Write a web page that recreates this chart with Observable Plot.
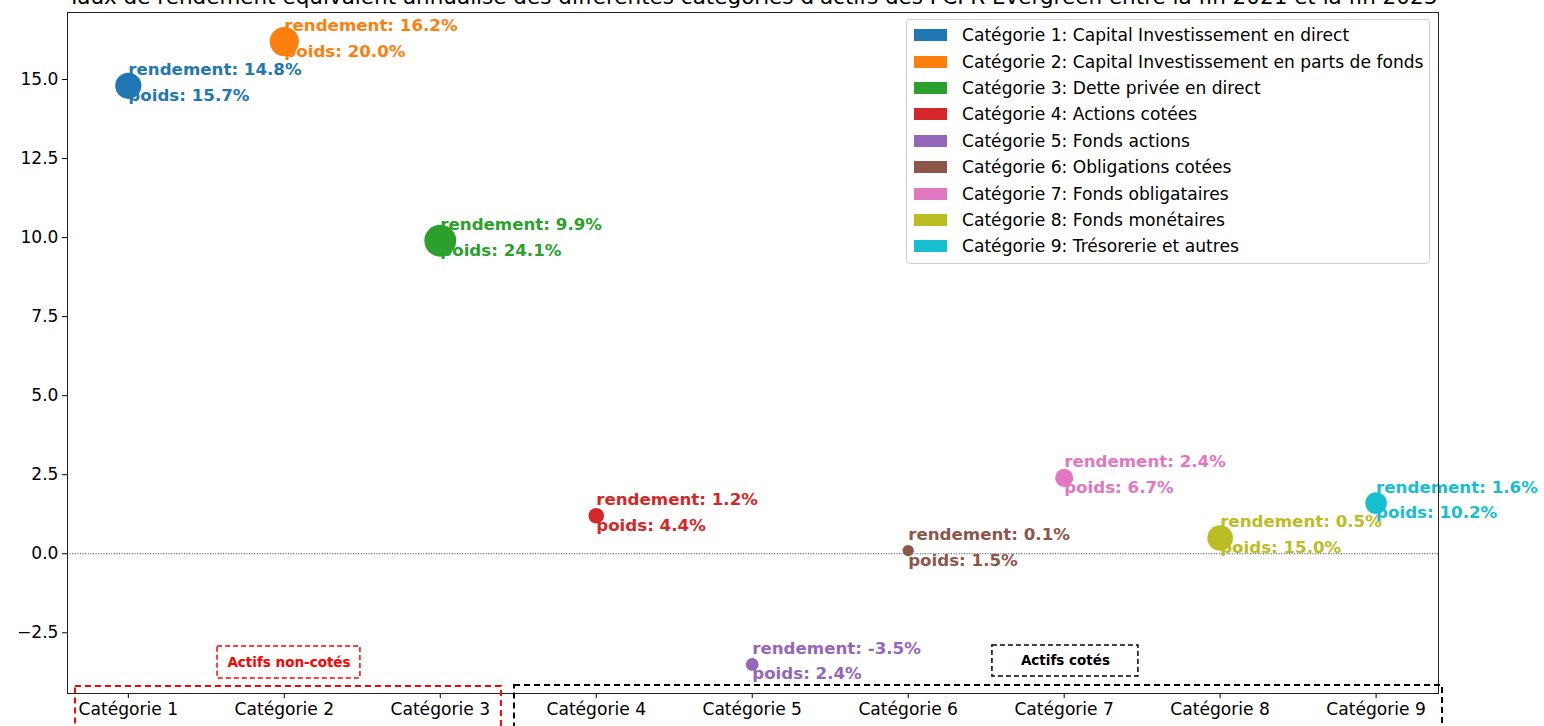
<!DOCTYPE html>
<html>
<head>
<meta charset="utf-8">
<script src="https://cdn.jsdelivr.net/npm/d3@7"></script>
<script src="https://cdn.jsdelivr.net/npm/@observablehq/plot@0.6"></script>
<style>
  html, body { margin: 0; padding: 0; background: #fff; overflow: hidden; }
  #wrap { position: relative; width: 1544px; height: 726px; font-family: "DejaVu Sans", sans-serif; }
  #title { position: absolute; left: 67px; width: 1371px; top: -14px; text-align: center; font-size: 21.5px; line-height: 21.5px; color: #000; white-space: nowrap; }
  #legend { position: absolute; left: 906px; top: 19px; width: 522px; padding: 2px 0 3px 0; border: 1px solid #d0d0d0; border-radius: 4px; background: rgba(255,255,255,0.8); font-size: 17.1px; color: #000; }
  .row { height: 26.4px; display: flex; align-items: center; }
  .sw { width: 33px; height: 12px; margin-left: 7px; margin-right: 15px; flex: none; }
</style>
</head>
<body>
<div id="wrap">
  <div id="chart"></div>
  <div id="title"></div>
  <div id="legend"></div>
</div>
<script>
const titleText = "Taux de rendement équivalent annualisé des différentes catégories d'actifs des FCPR Evergreen entre la fin 2021 et la fin 2023";
const categories = [1, 2, 3, 4, 5, 6, 7, 8, 9];
const rendement = [14.8, 16.2, 9.9, 1.2, -3.5, 0.1, 2.4, 0.5, 1.6];
const poids = [15.7, 20.0, 24.1, 4.4, 2.4, 1.5, 6.7, 15.0, 10.2];
const legendLabels = [
  "Catégorie 1: Capital Investissement en direct",
  "Catégorie 2: Capital Investissement en parts de fonds",
  "Catégorie 3: Dette privée en direct",
  "Catégorie 4: Actions cotées",
  "Catégorie 5: Fonds actions",
  "Catégorie 6: Obligations cotées",
  "Catégorie 7: Fonds obligataires",
  "Catégorie 8: Fonds monétaires",
  "Catégorie 9: Trésorerie et autres"
];
const colors = ["#1f77b4", "#ff7f0e", "#2ca02c", "#d62728", "#9467bd", "#8c564b", "#e377c2", "#bcbd22", "#17becf"];
const yTicks = [-2.5, 0, 2.5, 5, 7.5, 10, 12.5, 15];

// Annotation text boxes (data coordinates)
const boxLabels = ["Actifs non-cotés", "Actifs cotés"];
const boxColors = ["red", "black"];
const boxX1 = [1.572, 6.540], boxX2 = [2.488, 7.476];
const boxY1 = [-3.945, -3.88], boxY2 = [-2.933, -2.90];
// Group rectangles (data coordinates, extend beyond axes)
const groupX1 = [0.661, 3.476], groupX2 = [3.392, 9.426];
const groupY1 = [-6.5, -6.5], groupY2 = [-4.198, -4.167];
const groupColors = ["red", "black"];

const data = categories.map((c, i) => ({cat: c, rend: rendement[i], poids: poids[i], color: colors[i]}));
const boxes = boxLabels.map((t, i) => ({t, color: boxColors[i], x1: boxX1[i], x2: boxX2[i], y1: boxY1[i], y2: boxY2[i]}));
const groups = groupColors.map((c, i) => ({color: c, x1: groupX1[i], x2: groupX2[i], y1: groupY1[i], y2: groupY2[i]}));

const fs = 16.67;
const afs = 17.1;
const chart = Plot.plot({
  width: 1544,
  height: 726,
  marginLeft: 67,
  marginRight: 106,
  marginTop: 12,
  marginBottom: 33,
  style: {fontFamily: "DejaVu Sans", fontSize: afs + "px", color: "#000", background: "#fff"},
  x: {type: "linear", domain: [0.61, 9.4]},
  y: {type: "linear", domain: [-4.42, 17.12]},
  r: {type: "identity"},
  marks: [
    Plot.axisY({ticks: yTicks, tickFormat: d => d.toFixed(1).replace("-", "\u2212"), tickSize: 5, tickPadding: 4, fontSize: afs, label: null}),
    Plot.axisX({ticks: categories, tickFormat: d => "Catégorie " + d, tickSize: 5, tickPadding: 4, fontSize: afs, label: null}),
    Plot.ruleY([0], {stroke: "#000", strokeWidth: 0.8, strokeDasharray: "1,1.6"}),
    Plot.dot(data, {x: "cat", y: "rend", r: d => Math.sqrt(9.8 * d.poids + 17), fill: d => d.color, stroke: null}),
    Plot.text(data, {x: "cat", y: "rend", text: d => `rendement: ${d.rend.toFixed(1)}%`, fill: d => d.color, textAnchor: "start", lineAnchor: "bottom", dy: -10.5, fontWeight: "bold", fontSize: fs}),
    Plot.text(data, {x: "cat", y: "rend", text: d => `poids: ${d.poids.toFixed(1)}%`, fill: d => d.color, textAnchor: "start", lineAnchor: "bottom", dy: 15, fontWeight: "bold", fontSize: fs}),
    Plot.rect(boxes, {x1: "x1", x2: "x2", y1: "y1", y2: "y2", fill: "white", stroke: d => d.color, strokeWidth: 1.5, strokeDasharray: "5,3"}),
    Plot.text(boxes, {x: d => (d.x1 + d.x2) / 2, y: d => (d.y1 + d.y2) / 2, text: "t", fill: d => d.color, fontWeight: "bold", fontSize: 13.5}),
    Plot.frame({stroke: "#222", strokeWidth: 1}),
    Plot.rect(groups, {x1: "x1", x2: "x2", y1: "y1", y2: "y2", fill: "none", stroke: d => d.color, strokeWidth: 2, strokeDasharray: "6,4"})
  ]
});
document.getElementById("chart").appendChild(chart);
document.getElementById("title").textContent = titleText;
const leg = document.getElementById("legend");
legendLabels.forEach((lab, i) => {
  const row = document.createElement("div");
  row.className = "row";
  const sw = document.createElement("div");
  sw.className = "sw";
  sw.style.background = colors[i];
  const tx = document.createElement("span");
  tx.textContent = lab;
  row.appendChild(sw);
  row.appendChild(tx);
  leg.appendChild(row);
});
</script>
</body>
</html>
